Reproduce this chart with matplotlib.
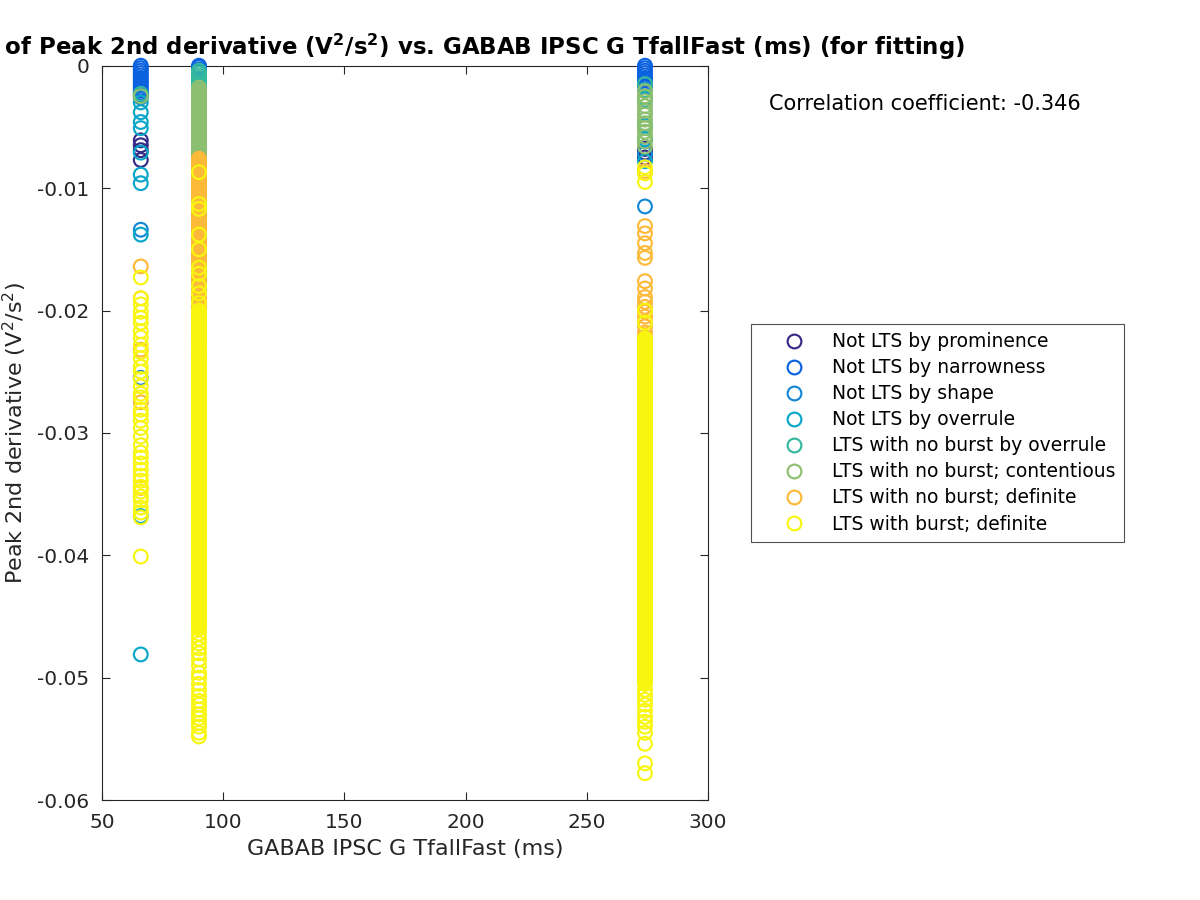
import matplotlib
matplotlib.use('Agg')
import matplotlib.pyplot as plt
from matplotlib.lines import Line2D

# x positions of the three parameter values (ms)
x_lo = 66
x_mid = 90
x_hi = 274

labels = ['Not LTS by prominence', 'Not LTS by narrowness', 'Not LTS by shape',
          'Not LTS by overrule', 'LTS with no burst by overrule',
          'LTS with no burst; contentious', 'LTS with no burst; definite',
          'LTS with burst; definite']
colors = ['#352a87', '#0a62df', '#1487d6', '#08a6c8', '#33b89f', '#8dbf70',
          '#fdb938', '#f8f50f']

# Not LTS by prominence
prom_lo = [-0.0061, -0.0065, -0.0069, -0.0077]
prom_mid = []
prom_hi = [-0.0068, -0.0071, -0.0075]

# Not LTS by narrowness
narr_lo = [0.0, -0.0002, -0.0004, -0.0006, -0.0008, -0.0010, -0.0012, -0.0014,
           -0.0016, -0.0018, -0.0020, -0.0022, -0.0024]
narr_mid = [0.0, -0.0001, -0.0003, -0.0005]
narr_hi = [0.0, -0.0002, -0.0004, -0.0006, -0.0008, -0.0010, -0.0012, -0.0014,
           -0.0017]

# Not LTS by shape
shape_lo = [-0.0026, -0.0134, -0.0255]
shape_mid = [-0.0054, -0.0074, -0.0083]
shape_hi = [-0.0072, -0.0115]

# Not LTS by overrule
over_lo = [-0.0030, -0.0038, -0.0046, -0.0051, -0.0071, -0.0089, -0.0096,
           -0.0138, -0.0368, -0.0481]
over_mid = [-0.0012, -0.0040, -0.0063]
over_hi = [-0.0028, -0.0049, -0.0060, -0.0078]

# LTS with no burst by overrule
ltsov_lo = [-0.0023]
ltsov_mid = [-0.0004, -0.0006, -0.0008, -0.0010, -0.0012, -0.0014, -0.0016]
ltsov_hi = [-0.0015, -0.0020, -0.0026]

# LTS with no burst; contentious
cont_lo = [-0.0025]
cont_mid = [-0.0018, -0.0020, -0.0023, -0.0025, -0.0028, -0.0030, -0.0033,
            -0.0035, -0.0038, -0.0040, -0.0043, -0.0045, -0.0048, -0.0050,
            -0.0053, -0.0055, -0.0058, -0.0060, -0.0063, -0.0065, -0.0068,
            -0.0070, -0.0073, -0.0075,
            -0.00215, -0.00240, -0.00265, -0.00290, -0.00315,
            -0.00340, -0.00365, -0.00390, -0.00415, -0.00440, -0.00465,
            -0.00490, -0.00515, -0.00540, -0.00565, -0.00590, -0.00615,
            -0.00640, -0.00665, -0.00690, -0.00715, -0.00740]
cont_hi = [-0.0021, -0.0025, -0.0029, -0.0033, -0.0037, -0.0040, -0.0044,
           -0.0047, -0.0051, -0.0054, -0.0058, -0.0062, -0.0066]

# LTS with no burst; definite
nob_lo = [-0.0164, -0.0190, -0.0232, -0.0275, -0.0345]
nob_mid = [-0.0076, -0.0078, -0.0081, -0.0083, -0.0086, -0.0088, -0.0091,
           -0.0093, -0.0096, -0.0098, -0.0101, -0.0103, -0.0106, -0.0108,
           -0.0111, -0.0113, -0.0116, -0.0118, -0.0121, -0.0123, -0.0126,
           -0.0128, -0.0131, -0.0133, -0.0136, -0.0138, -0.0141, -0.0143,
           -0.0146, -0.0148, -0.0151, -0.0153, -0.0156, -0.0158, -0.0161,
           -0.0163, -0.0166, -0.0168, -0.0171, -0.0173, -0.0176, -0.0178,
           -0.0181, -0.0183, -0.0186, -0.0188, -0.0191, -0.0193, -0.0196,
           -0.0198, -0.0201, -0.0204, -0.0208, -0.0213, -0.0219, -0.0226,
           -0.0238,
           -0.00770, -0.00795, -0.00820, -0.00845, -0.00870, -0.00895,
           -0.00920, -0.00945, -0.00970, -0.00995, -0.01020, -0.01045,
           -0.01070, -0.01095, -0.01120, -0.01145, -0.01170, -0.01195,
           -0.01220, -0.01245, -0.01270, -0.01295, -0.01320, -0.01345,
           -0.01370, -0.01395, -0.01420, -0.01445, -0.01470, -0.01495,
           -0.01520, -0.01545, -0.01570, -0.01595, -0.01620, -0.01645,
           -0.01670, -0.01695, -0.01720, -0.01745, -0.01770, -0.01795,
           -0.01820, -0.01845, -0.01870, -0.01895, -0.01920, -0.01945,
           -0.01970, -0.01995]
nob_hi = [-0.0086, -0.0131, -0.0137, -0.0145, -0.0153, -0.0157, -0.0176,
          -0.0182, -0.0189, -0.0193, -0.0197, -0.0201, -0.0205, -0.0209,
          -0.0213, -0.0218, -0.0222, -0.0226, -0.0231, -0.0236, -0.0242,
          -0.0250]

# LTS with burst; definite
burst_lo = [-0.0173, -0.0190, -0.0195, -0.0201, -0.0206, -0.0210, -0.0217,
            -0.0222, -0.0228, -0.0234, -0.0239, -0.0246, -0.0250, -0.0256,
            -0.0262, -0.0268, -0.0271, -0.0281, -0.0285, -0.0290, -0.0296,
            -0.0303, -0.0310, -0.0316, -0.0320, -0.0325, -0.0330, -0.0335,
            -0.0339, -0.0344, -0.0348, -0.0352, -0.0355, -0.0361, -0.0365,
            -0.0369, -0.0401]
burst_mid = [-0.0087, -0.0113, -0.0117, -0.0138, -0.0150, -0.0165, -0.0170,
             -0.0180, -0.0186, -0.0194,
             -0.0200, -0.0203, -0.0205, -0.0208, -0.0210, -0.0213, -0.0215,
             -0.0218, -0.0220, -0.0223, -0.0225, -0.0228, -0.0230, -0.0233,
             -0.0235, -0.0238, -0.0240, -0.0243, -0.0245, -0.0248, -0.0250,
             -0.0253, -0.0255, -0.0258, -0.0260, -0.0263, -0.0265, -0.0268,
             -0.0270, -0.0273, -0.0275, -0.0278, -0.0280, -0.0283, -0.0285,
             -0.0288, -0.0290, -0.0293, -0.0295, -0.0298, -0.0300, -0.0303,
             -0.0305, -0.0308, -0.0310, -0.0313, -0.0315, -0.0318, -0.0320,
             -0.0323, -0.0325, -0.0328, -0.0330, -0.0333, -0.0335, -0.0338,
             -0.0340, -0.0343, -0.0345, -0.0348, -0.0350, -0.0353, -0.0355,
             -0.0358, -0.0360, -0.0363, -0.0365, -0.0368, -0.0370, -0.0373,
             -0.0375, -0.0378, -0.0380, -0.0383, -0.0385, -0.0388, -0.0390,
             -0.0393, -0.0395, -0.0398, -0.0400, -0.0403, -0.0405, -0.0408,
             -0.0410, -0.0413, -0.0415, -0.0418, -0.0420, -0.0423, -0.0425,
             -0.0428, -0.0430, -0.0433, -0.0435, -0.0438, -0.0440, -0.0443,
             -0.0445, -0.0448, -0.0450, -0.0453, -0.0455, -0.0458, -0.0460,
             -0.0464, -0.0468, -0.0472, -0.0476, -0.0480, -0.0485, -0.0490,
             -0.0496, -0.0500, -0.0505, -0.0510, -0.0515, -0.0519, -0.0522,
             -0.0526, -0.0530, -0.0533, -0.0537, -0.0540, -0.0545, -0.0548,
             -0.02015, -0.02040, -0.02065, -0.02090, -0.02115, -0.02140,
             -0.02165, -0.02190, -0.02215, -0.02240, -0.02265, -0.02290,
             -0.02315, -0.02340, -0.02365, -0.02390, -0.02415, -0.02440,
             -0.02465, -0.02490, -0.02515, -0.02540, -0.02565, -0.02590,
             -0.02615, -0.02640, -0.02665, -0.02690, -0.02715, -0.02740,
             -0.02765, -0.02790, -0.02815, -0.02840, -0.02865, -0.02890,
             -0.02915, -0.02940, -0.02965, -0.02990, -0.03015, -0.03040,
             -0.03065, -0.03090, -0.03115, -0.03140, -0.03165, -0.03190,
             -0.03215, -0.03240, -0.03265, -0.03290, -0.03315, -0.03340,
             -0.03365, -0.03390, -0.03415, -0.03440, -0.03465, -0.03490,
             -0.03515, -0.03540, -0.03565, -0.03590, -0.03615, -0.03640,
             -0.03665, -0.03690, -0.03715, -0.03740, -0.03765, -0.03790,
             -0.03815, -0.03840, -0.03865, -0.03890, -0.03915, -0.03940,
             -0.03965, -0.03990, -0.04015, -0.04040, -0.04065, -0.04090,
             -0.04115, -0.04140, -0.04165, -0.04190, -0.04215, -0.04240,
             -0.04265, -0.04290, -0.04315, -0.04340, -0.04365, -0.04390,
             -0.04415, -0.04440, -0.04465, -0.04490, -0.04515, -0.04540,
             -0.04565, -0.04590]
burst_hi = [-0.0083, -0.0088, -0.0095, -0.0200, -0.0210,
            -0.0223, -0.0225, -0.0228, -0.0230, -0.0233, -0.0235, -0.0238,
            -0.0240, -0.0243, -0.0245, -0.0248, -0.0250, -0.0253, -0.0255,
            -0.0258, -0.0260, -0.0263, -0.0265, -0.0268, -0.0270, -0.0273,
            -0.0275, -0.0278, -0.0280, -0.0283, -0.0285, -0.0288, -0.0290,
            -0.0293, -0.0295, -0.0298, -0.0300, -0.0303, -0.0305, -0.0308,
            -0.0310, -0.0313, -0.0315, -0.0318, -0.0320, -0.0323, -0.0325,
            -0.0328, -0.0330, -0.0333, -0.0335, -0.0338, -0.0340, -0.0343,
            -0.0345, -0.0348, -0.0350, -0.0353, -0.0355, -0.0358, -0.0360,
            -0.0363, -0.0365, -0.0368, -0.0370, -0.0373, -0.0375, -0.0378,
            -0.0380, -0.0383, -0.0385, -0.0388, -0.0390, -0.0393, -0.0395,
            -0.0398, -0.0400, -0.0403, -0.0405, -0.0408, -0.0410, -0.0413,
            -0.0415, -0.0418, -0.0420, -0.0423, -0.0425, -0.0428, -0.0430,
            -0.0433, -0.0435, -0.0438, -0.0440, -0.0443, -0.0445, -0.0448,
            -0.0450, -0.0453, -0.0455, -0.0458, -0.0460, -0.0463, -0.0465,
            -0.0468, -0.0470, -0.0473, -0.0475, -0.0478, -0.0480, -0.0483,
            -0.0485, -0.0488, -0.0490, -0.0493, -0.0495, -0.0498, -0.0500,
            -0.0503, -0.0505, -0.0510, -0.0514, -0.0518, -0.0522, -0.0527,
            -0.0532, -0.0536, -0.0540, -0.0545, -0.0554, -0.0570, -0.0578,
            -0.02240, -0.02265, -0.02290, -0.02315, -0.02340, -0.02365,
            -0.02390, -0.02415, -0.02440, -0.02465, -0.02490, -0.02515,
            -0.02540, -0.02565, -0.02590, -0.02615, -0.02640, -0.02665,
            -0.02690, -0.02715, -0.02740, -0.02765, -0.02790, -0.02815,
            -0.02840, -0.02865, -0.02890, -0.02915, -0.02940, -0.02965,
            -0.02990, -0.03015, -0.03040, -0.03065, -0.03090, -0.03115,
            -0.03140, -0.03165, -0.03190, -0.03215, -0.03240, -0.03265,
            -0.03290, -0.03315, -0.03340, -0.03365, -0.03390, -0.03415,
            -0.03440, -0.03465, -0.03490, -0.03515, -0.03540, -0.03565,
            -0.03590, -0.03615, -0.03640, -0.03665, -0.03690, -0.03715,
            -0.03740, -0.03765, -0.03790, -0.03815, -0.03840, -0.03865,
            -0.03890, -0.03915, -0.03940, -0.03965, -0.03990, -0.04015,
            -0.04040, -0.04065, -0.04090, -0.04115, -0.04140, -0.04165,
            -0.04190, -0.04215, -0.04240, -0.04265, -0.04290, -0.04315,
            -0.04340, -0.04365, -0.04390, -0.04415, -0.04440, -0.04465,
            -0.04490, -0.04515, -0.04540, -0.04565, -0.04590, -0.04615,
            -0.04640, -0.04665, -0.04690, -0.04715, -0.04740, -0.04765,
            -0.04790, -0.04815, -0.04840, -0.04865, -0.04890, -0.04915,
            -0.04940, -0.04965, -0.04990, -0.05015, -0.05040]

groups = [(prom_lo, prom_mid, prom_hi), (narr_lo, narr_mid, narr_hi),
          (shape_lo, shape_mid, shape_hi), (over_lo, over_mid, over_hi),
          (ltsov_lo, ltsov_mid, ltsov_hi), (cont_lo, cont_mid, cont_hi),
          (nob_lo, nob_mid, nob_hi), (burst_lo, burst_mid, burst_hi)]

xticks = [50, 100, 150, 200, 250, 300]
yticks = [-0.06, -0.05, -0.04, -0.03, -0.02, -0.01, 0]
ytick_labels = ['-0.06', '-0.05', '-0.04', '-0.03', '-0.02', '-0.01', '0']

dark = '#262626'
fig = plt.figure(figsize=(12, 9), dpi=100)
ax = fig.add_axes([0.085, 0.111, 0.505, 0.816])

for (ylo, ymid, yhi), col in zip(groups, colors):
    xs = [x_lo] * len(ylo) + [x_mid] * len(ymid) + [x_hi] * len(yhi)
    ys = ylo + ymid + yhi
    ax.scatter(xs, ys, s=98, facecolors='none', edgecolors=col, linewidths=1.55,
               clip_on=False, zorder=3)

ax.set_xlim(50, 300)
ax.set_ylim(-0.06, 0)
ax.set_xticks(xticks)
ax.set_yticks(yticks)
ax.set_yticklabels(ytick_labels)
ax.tick_params(direction='in', length=6, top=True, right=True, labelsize=14.5,
               colors=dark, width=0.8, pad=9)
for sp in ax.spines.values():
    sp.set_color(dark)
    sp.set_linewidth(0.8)

ax.set_xlabel('GABAB IPSC G TfallFast (ms)', fontsize=16, color=dark, labelpad=5)
ax.set_ylabel('Peak 2nd derivative (V$^2$/s$^2$)', fontsize=16, color=dark,
              labelpad=6)
ax.set_title('Scatter plot of Peak 2nd derivative (V$^\\mathbf{2}$/s$^\\mathbf{2}$) vs. '
             'GABAB IPSC G TfallFast (ms) (for fitting)',
             fontsize=16.5, fontweight='bold', pad=8)

fig.text(0.641, 1 - 104 / 900, 'Correlation coefficient: -0.346', fontsize=15,
         color='black', va='center')

handles = [Line2D([], [], linestyle='none', marker='o', markersize=9.9,
                  markerfacecolor='none', markeredgecolor=c, markeredgewidth=1.55)
           for c in colors]
leg = ax.legend(handles, labels, loc='center',
                bbox_to_anchor=(0.781, 0.519), bbox_transform=fig.transFigure,
                fontsize=13.5, frameon=True, fancybox=False, edgecolor=dark,
                labelspacing=0.375, handletextpad=0.18, borderpad=0.45,
                handlelength=3.7, borderaxespad=0)
leg.get_frame().set_linewidth(0.8)

fig.savefig('out.png', dpi=100)
